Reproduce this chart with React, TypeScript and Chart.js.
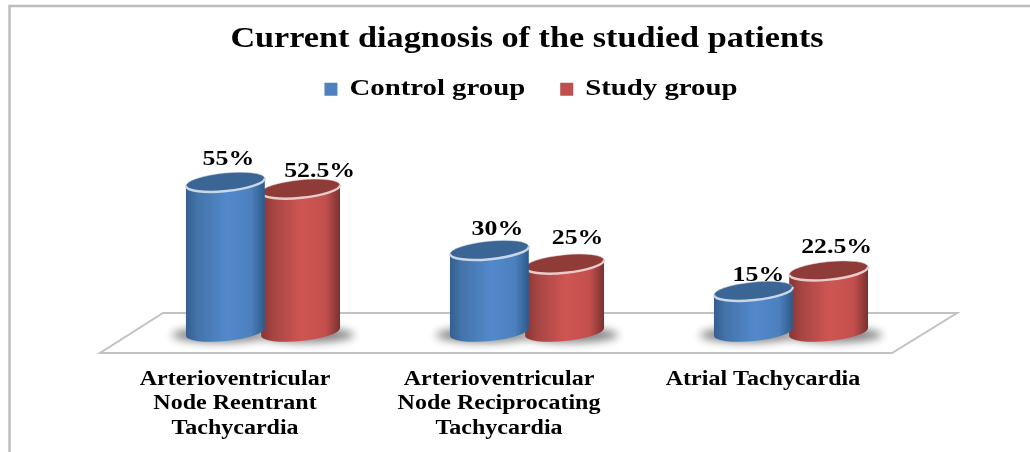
import React, { useEffect, useRef } from "react";
import { Chart, registerables } from "chart.js";

Chart.register(...registerables);

const categories = [
  ["Arterioventricular", "Node Reentrant", "Tachycardia"],
  ["Arterioventricular", "Node Reciprocating", "Tachycardia"],
  ["Atrial Tachycardia"],
];
const controlGroup = [55, 30, 15];
const studyGroup = [52.5, 25, 22.5];
const chartTitle = "Current diagnosis of the studied patients";

// label nudges relative to each cylinder's top, per dataset
const labelNudge = [
  [[3, -23], [8, -21], [5, -16]],
  [[19, -17], [13, -25], [8, -23]],
];
const palette = [
  { stops: ["#345f8e", "#4374aa", "#5289cb", "#4c80bf", "#2e5a8a"], top: "#3a6594", rim: "#c9d7e8" },
  { stops: ["#843432", "#a64543", "#cf5652", "#c24f4c", "#773130"], top: "#8f3b38", rim: "#e8cbca" },
];
const stopPos = [0, 0.15, 0.52, 0.82, 1];
const TILT = -0.1;
const RY = 9;
const TEXT_STRETCH = 1.2; // the reference's lettering is stretched sideways
const LEGEND_SHIFT = 4;

function stretchText(ctx: any) {
  if (ctx.__stretched) return;
  ctx.__stretched = true;
  const fill = ctx.fillText.bind(ctx);
  const measure = ctx.measureText.bind(ctx);
  ctx.fillText = (t: string, x: number, y: number) => {
    ctx.save();
    ctx.translate(x, y);
    ctx.scale(TEXT_STRETCH, 1);
    fill(t, 0, 0);
    ctx.restore();
  };
  ctx.measureText = (t: string) => ({ width: measure(t).width * TEXT_STRETCH });
}

const cylinders = {
  id: "cylinders",
  beforeInit(chart: any) {
    stretchText(chart.ctx);
  },
  afterLayout(chart: any) {
    chart.legend.left += LEGEND_SHIFT;
    chart.legend.right += LEGEND_SHIFT;
  },
  beforeDraw(chart: any) {
    const { ctx, chartArea: a } = chart;
    ctx.save();
    ctx.fillStyle = "#fff";
    ctx.fillRect(0, 0, chart.width, chart.height);
    // frame
    ctx.strokeStyle = "#bdbdbd";
    ctx.lineWidth = 2.5;
    ctx.beginPath();
    ctx.moveTo(9.5, chart.height);
    ctx.lineTo(9.5, 6);
    ctx.lineTo(chart.width, 6);
    ctx.stroke();
    // floor
    ctx.strokeStyle = "#c2c2c2";
    ctx.lineWidth = 2;
    ctx.beginPath();
    ctx.moveTo(a.left - 31, a.bottom + 21);
    ctx.lineTo(a.right - 31, a.bottom + 21);
    ctx.lineTo(a.right + 34, a.bottom - 19);
    ctx.lineTo(a.left + 32, a.bottom - 19);
    ctx.closePath();
    ctx.stroke();
    ctx.restore();
  },
  beforeDatasetsDraw(chart: any) {
    const ctx = chart.ctx;
    ctx.save();
    ctx.filter = "blur(4px)";
    ctx.fillStyle = "#858585";
    chart.data.datasets.forEach((_: any, i: number) => {
      chart.getDatasetMeta(i).data.forEach((bar: any) => {
        ctx.beginPath();
        ctx.ellipse(bar.x + (i === 0 ? -6 : 6), bar.base + 3, bar.width / 2 + 10, RY - 1.5, 0, 0, Math.PI * 2);
        ctx.fill();
      });
    });
    ctx.restore();
  },
  beforeDatasetDraw(chart: any, args: any) {
    const ctx = chart.ctx;
    const c = palette[args.index];
    args.meta.data.forEach((bar: any) => {
      const rx = bar.width / 2 + 2;
      const x = bar.x;
      ctx.save();
      const g = ctx.createLinearGradient(x - rx, 0, x + rx, 0);
      c.stops.forEach((s: string, k: number) => g.addColorStop(stopPos[k], s));
      ctx.beginPath();
      ctx.ellipse(x, bar.base, rx, RY, TILT, 0, Math.PI);
      ctx.ellipse(x, bar.y, rx, RY, TILT, Math.PI, 0, true);
      ctx.closePath();
      ctx.fillStyle = g;
      ctx.fill();
      ctx.beginPath();
      ctx.ellipse(x, bar.y, rx, RY, TILT, 0, Math.PI * 2);
      ctx.fillStyle = c.top;
      ctx.fill();
      ctx.strokeStyle = c.rim;
      ctx.globalAlpha = 0.5;
      ctx.lineWidth = 1;
      ctx.stroke();
      ctx.globalAlpha = 1;
      ctx.beginPath();
      ctx.ellipse(x, bar.y, rx, RY, TILT, 0, Math.PI);
      ctx.lineWidth = 2.5;
      ctx.stroke();
      ctx.restore();
    });
    return false;
  },
  afterDatasetsDraw(chart: any) {
    const ctx = chart.ctx;
    ctx.save();
    ctx.font = "bold 21.5px 'Liberation Serif'";
    ctx.fillStyle = "#000";
    ctx.textAlign = "center";
    ctx.textBaseline = "middle";
    chart.data.datasets.forEach((ds: any, i: number) => {
      chart.getDatasetMeta(i).data.forEach((bar: any, j: number) => {
        const [dx, dy] = labelNudge[i][j];
        ctx.fillText(`${ds.data[j]}%`, bar.x + dx, bar.y + dy);
      });
    });
    ctx.restore();
  },
};

export default function App() {
  const ref = useRef<HTMLCanvasElement>(null);
  useEffect(() => {
    const chart = new Chart(ref.current!, {
      type: "bar",
      data: {
        labels: categories as any,
        datasets: [
          { label: "Control group", data: controlGroup, backgroundColor: "#4f81bd", categoryPercentage: 0.57, barPercentage: 1 },
          { label: "Study group", data: studyGroup, backgroundColor: "#c0504d", categoryPercentage: 0.57, barPercentage: 1 },
        ],
      },
      plugins: [cylinders],
      options: {
        animation: false,
        responsive: false,
        layout: { padding: { left: 131, right: 107, top: 23, bottom: 0 } },
        plugins: {
          title: {
            display: true,
            text: chartTitle,
            color: "#000",
            font: { family: "'Liberation Serif'", size: 28.5, weight: "bold" },
            padding: { top: 0, bottom: -15 },
          },
          legend: {
            display: true,
            labels: {
              color: "#000",
              boxWidth: 13,
              boxHeight: 13,
              padding: 35,
              font: { family: "'Liberation Serif'", size: 24, weight: "bold" },
            },
          },
          tooltip: { enabled: false },
        },
        scales: {
          x: {
            grid: { display: false },
            border: { display: false },
            afterFit(scale: any) {
              scale.height = 120;
            },
            ticks: {
              color: "#000",
              padding: 27,
              labelOffset: -28,
              maxRotation: 0,
              autoSkip: false,
              font: { family: "'Liberation Serif'", size: 20, weight: "bold", lineHeight: 1.24 },
            },
          },
          y: { display: false, min: 0, max: 81 },
        },
      },
    });
    return () => chart.destroy();
  }, []);
  return (
    <div style={{ position: "absolute", left: 0, top: 0, width: 1030, height: 452 }}>
      <canvas ref={ref} width={1030} height={452} style={{ display: "block", width: 1030, height: 452, filter: "blur(0.5px)" }} />
    </div>
  );
}
